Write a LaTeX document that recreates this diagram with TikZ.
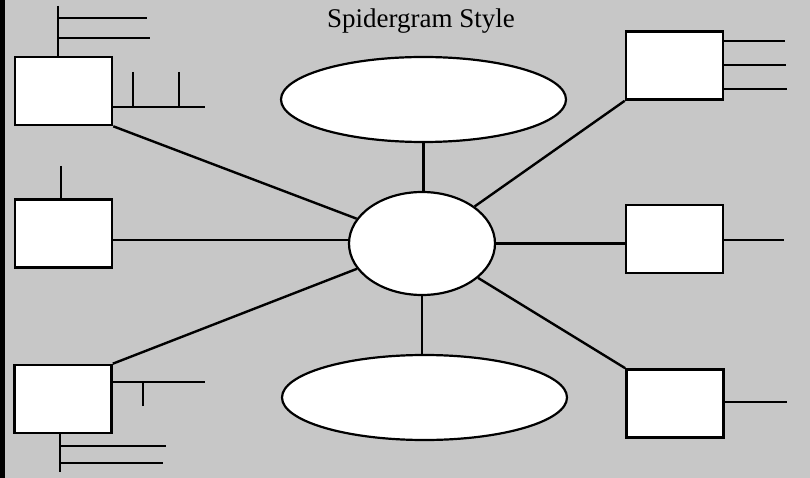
\documentclass[tikz,border=0pt]{standalone}
\usepackage{fontspec}
\setmainfont{Liberation Serif}
\usetikzlibrary{shapes.geometric}
\begin{document}
\begin{tikzpicture}[x=1pt,y=-1pt,
  box/.style={draw,fill=white,line width=2.6pt,minimum width=97pt,minimum height=68pt,inner sep=0pt},
  oval/.style={ellipse,draw,fill=white,line width=2.2pt,inner sep=0pt},
  wire/.style={line width=2.4pt}]
\fill[black!22] (0,0) rectangle (810,478);
\useasboundingbox (0,0) rectangle (810,478);
\fill[black] (0,0) rectangle (5,478);

\node[font=\fontsize{27}{32}\selectfont,anchor=base] (title) at (421,27.5) {Spidergram Style};

\node[box] (tl) at (63.5,91) {};
\node[box] (ml) at (63.5,233.5) {};
\node[box] (bl) at (63,399) {};
\node[box] (tr) at (674.5,65.5) {};
\node[box] (mr) at (674.5,239) {};
\node[box] (br) at (675,403.5) {};
\node[oval,minimum width=146pt,minimum height=103pt] (c) at (422,243.5) {};
\node[oval,minimum width=285pt,minimum height=85pt] (top) at (423.5,99.5) {};
\node[oval,minimum width=285pt,minimum height=85pt] (bot) at (424.5,397.5) {};

\draw[wire] (tl.south east) -- (c);
\draw[wire] (bl.north east) -- (c);
\draw[wire] (tr.south west) -- (c);
\draw[wire] (br.north west) -- (c);
\draw[wire] ([yshift=-6.5pt]ml.east) -- ([yshift=-6.5pt]ml.east -| c.west);
\draw[wire] (c.east) -- (c.east -| mr.west);
\draw[wire] (top.south) -- (top.south |- c.north);
\draw[wire] (c.south) -- (c.south |- bot.north);

% top-left stubs
\coordinate (a1) at (58,6);
\coordinate (a2) at (147,18);
\coordinate (a3) at (150,38);
\coordinate (a4) at (205,107);
\coordinate (a5) at (133,72);
\coordinate (a6) at (179,72);
\draw[wire] (a1) -- (a1 |- tl.north);
\draw[wire] (a2 -| a1) -- (a2);
\draw[wire] (a3 -| a1) -- (a3);
\draw[wire] (a4 -| tl.east) -- (a4);
\draw[wire] (a5) -- (a5 |- a4);
\draw[wire] (a6) -- (a6 |- a4);

% middle-left stub
\coordinate (b1) at (61,166);
\draw[wire] (b1) -- (b1 |- ml.north);

% bottom-left stubs
\coordinate (c1) at (205,382);
\coordinate (c2) at (143,406);
\coordinate (c3) at (60,472);
\coordinate (c4) at (166,446);
\coordinate (c5) at (163,463);
\draw[wire] (c1 -| bl.east) -- (c1);
\draw[wire] (c2) -- (c2 |- c1);
\draw[wire] (c3 |- bl.south) -- (c3);
\draw[wire] (c4 -| c3) -- (c4);
\draw[wire] (c5 -| c3) -- (c5);

% right stubs
\coordinate (d1) at (785,41);
\coordinate (d2) at (786,65);
\coordinate (d3) at (787,89);
\coordinate (e1) at (784,240);
\coordinate (f1) at (787,402);
\draw[wire] (d1 -| tr.east) -- (d1);
\draw[wire] (d2 -| tr.east) -- (d2);
\draw[wire] (d3 -| tr.east) -- (d3);
\draw[wire] (e1 -| mr.east) -- (e1);
\draw[wire] (f1 -| br.east) -- (f1);
\end{tikzpicture}
\end{document}
